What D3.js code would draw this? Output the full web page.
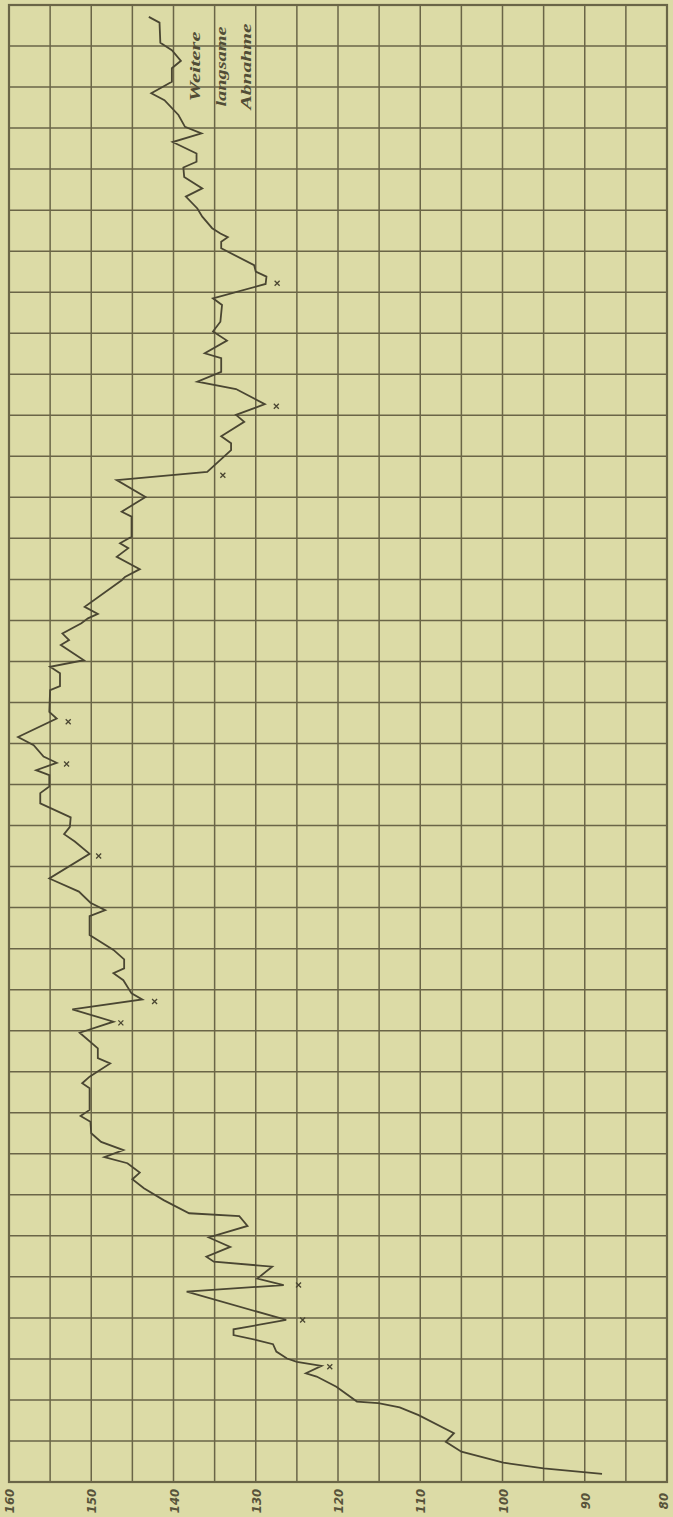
<!DOCTYPE html>
<html>
<head>
<meta charset="utf-8">
<script src="https://cdn.jsdelivr.net/npm/d3@7"></script>
<style>
  body { margin: 0; background: #dcdba6; }
  svg { display: block; }
</style>
</head>
<body>
<div id="container"></div>
<script>
// Declare the chart dimensions and margins.
const width = 673;
const height = 1517;
const marginTop = 5;
const marginRight = 6;
const marginBottom = 35;
const marginLeft = 9;

// time runs from bottom (start) to top, in grid rows
const zeit = [0.2, 0.33, 0.47, 0.74, 0.98, 1.19, 1.63, 1.82, 1.92, 1.96,
    2.32, 2.57, 2.65, 2.83, 2.93, 3.01, 3.18, 3.36, 3.46, 3.58,
    3.72, 3.95, 4.64, 4.80, 4.96, 5.25, 5.37, 5.49, 5.73, 5.96,
    6.24, 6.48, 6.55, 6.87, 7.16, 7.38, 7.54, 7.77, 7.92, 8.09,
    8.29, 8.50, 8.78, 8.92, 9.07, 9.60, 9.72, 9.88, 10.20, 10.33,
    10.57, 10.95, 11.22, 11.52, 11.76, 11.91, 12.23, 12.40, 12.52, 12.74,
    12.97, 13.33, 13.79, 13.94, 14.12, 14.39, 14.71, 15.31, 15.61, 15.79,
    15.97, 16.20, 16.54, 16.79, 16.95, 17.23, 17.35, 17.53, 17.68, 17.96,
    18.16, 18.61, 18.77, 19.30, 19.40, 19.71, 19.87, 20.03, 20.40, 20.52,
    20.68, 20.93, 21.05, 21.16, 21.33, 21.98, 22.06, 22.25, 22.55, 22.76,
    22.88, 23.04, 23.53, 23.65, 24.01, 24.42, 24.62, 25.15, 25.32, 25.49,
    25.84, 26.01, 26.27, 26.64, 26.82, 27.06, 27.39, 27.51, 27.82, 28.04,
    28.28, 28.69, 28.85, 29.20, 29.38, 29.50, 29.66, 30.07, 30.23, 30.34,
    30.43, 30.56, 30.84, 31.04, 31.33, 31.53, 31.81, 32.04, 32.18, 32.38,
    32.66, 32.87, 33.03, 33.32, 33.68, 33.85, 34.13, 34.46, 34.64, 34.90,
    35.08, 35.57, 35.71];

const werte = [87.9, 95.0, 99.9, 105.0, 106.9, 105.9, 110.2, 112.5, 115.1, 117.7,
    120.2, 122.6, 123.9, 122.0, 125.0, 126.2, 127.5, 127.9, 129.9, 132.7,
    132.7, 126.3, 138.4, 126.6, 129.8, 128.0, 135.1, 136.0, 133.1, 135.7,
    131.0, 132.0, 138.1, 141.2, 143.6, 145.0, 144.1, 145.6, 148.4, 146.1,
    148.8, 150.0, 150.1, 151.3, 150.2, 150.2, 151.1, 150.2, 147.7, 149.2,
    149.2, 151.4, 147.3, 152.3, 143.8, 145.1, 146.1, 147.3, 146.0, 146.0,
    147.3, 150.2, 150.2, 148.3, 150.1, 151.5, 155.1, 150.2, 152.0, 153.3,
    152.6, 152.5, 156.2, 156.2, 155.1, 155.1, 156.7, 154.2, 155.8, 157.0,
    158.9, 154.2, 155.1, 155.0, 153.8, 153.8, 155.0, 150.9, 153.7, 152.7,
    153.5, 151.2, 150.4, 149.2, 150.8, 146.3, 145.9, 144.1, 146.9, 145.5,
    146.5, 145.1, 145.1, 146.3, 143.4, 146.9, 135.9, 133.0, 133.0, 134.2,
    131.4, 132.4, 128.9, 132.4, 137.1, 134.2, 134.2, 136.2, 133.5, 135.2,
    134.3, 134.1, 135.2, 128.8, 128.7, 130.0, 130.2, 134.2, 134.2, 133.4,
    134.3, 135.3, 136.5, 137.1, 138.5, 136.5, 138.7, 138.8, 137.2, 137.2,
    140.1, 136.6, 138.6, 139.4, 141.1, 142.7, 140.2, 140.2, 139.1, 140.2,
    141.6, 141.7, 143.0];

// small crosses drawn next to some of the dips
const kreuzZeit = [2.81, 3.95, 4.80, 11.19, 11.71, 15.26, 17.50, 18.53, 24.54, 26.22, 29.22];
const kreuzWerte = [121.0, 124.3, 124.8, 146.4, 142.3, 149.1, 153.0, 152.8, 134.0, 127.5, 127.4];

// scale labels along the bottom edge
const achsenWerte = [160, 150, 140, 130, 120, 110, 100, 90, 80];

// note written at the end of the curve
const anmerkung = ["Weitere", "langsame", "Abnahme"];

const lineColor = "#4a4632";
const gridColor = "#6a6547";

// value runs right to left, time runs bottom to top
const x = d3.scaleLinear()
    .domain([160, 80])
    .range([marginLeft, width - marginRight]);

const y = d3.scaleLinear()
    .domain([0, 36])
    .range([height - marginBottom, marginTop]);

const data = zeit.map((t, i) => ({zeit: t, wert: werte[i]}));
const kreuze = kreuzZeit.map((t, i) => ({zeit: t, wert: kreuzWerte[i]}));

// Create the SVG container.
const svg = d3.select("#container").append("svg")
    .attr("width", width)
    .attr("height", height)
    .attr("viewBox", [0, 0, width, height]);

svg.append("rect")
    .attr("width", width)
    .attr("height", height)
    .attr("fill", "#dcdba6");

// grid paper
const grid = svg.append("g")
    .attr("stroke", gridColor)
    .attr("stroke-width", 1.5);

grid.selectAll(".v")
    .data(d3.range(80, 161, 5))
    .join("line")
    .attr("class", "v")
    .attr("x1", d => x(d))
    .attr("x2", d => x(d))
    .attr("y1", y(0))
    .attr("y2", y(36));

grid.selectAll(".h")
    .data(d3.range(0, 37))
    .join("line")
    .attr("class", "h")
    .attr("x1", x(160))
    .attr("x2", x(80))
    .attr("y1", d => y(d))
    .attr("y2", d => y(d));

svg.append("rect")
    .attr("x", x(160))
    .attr("y", y(36))
    .attr("width", x(80) - x(160))
    .attr("height", y(0) - y(36))
    .attr("fill", "none")
    .attr("stroke", gridColor)
    .attr("stroke-width", 2.2);

// labels under the grid, turned on their side
// (the last one is nudged in so it stays on the sheet)
svg.append("g")
    .attr("transform", `translate(0,${y(0)})`)
    .call(d3.axisBottom(x).tickValues(achsenWerte).tickSize(0))
    .call(g => g.select(".domain").remove())
    .call(g => g.selectAll(".tick text")
        .attr("transform", "rotate(-90)")
        .attr("x", -19)
        .attr("y", d => d === 80 ? -4 : 0)
        .attr("dy", "0.35em")
        .attr("text-anchor", "middle")
        .attr("fill", "#57533a")
        .style("font-family", "'DejaVu Sans Condensed', 'DejaVu Sans', sans-serif")
        .style("font-style", "italic")
        .style("font-weight", "bold")
        .style("font-size", "13px"));

// the curve
const line = d3.line()
    .x(d => x(d.wert))
    .y(d => y(d.zeit));

svg.append("path")
    .datum(data)
    .attr("fill", "none")
    .attr("stroke", lineColor)
    .attr("stroke-width", 1.8)
    .attr("stroke-linejoin", "miter")
    .attr("stroke-miterlimit", 4)
    .attr("d", line);

// crosses
svg.append("g")
    .attr("stroke", lineColor)
    .attr("stroke-width", 1.3)
    .selectAll("path")
    .data(kreuze)
    .join("path")
    .attr("d", d => {
        const cx = x(d.wert), cy = y(d.zeit), s = 2.5;
        return `M${cx - s},${cy - s}L${cx + s},${cy + s}M${cx + s},${cy - s}L${cx - s},${cy + s}`;
    });

// handwritten note, rotated like the labels
const noteLengths = [70, 80, 86];
svg.append("g")
    .selectAll("text")
    .data(anmerkung)
    .join("text")
    .attr("transform", (d, i) => `translate(${x(137.4) + i * 25.5},${y(34.5)}) rotate(-90)`)
    .attr("dy", "0.35em")
    .attr("text-anchor", "middle")
    .attr("textLength", (d, i) => noteLengths[i])
    .attr("lengthAdjust", "spacingAndGlyphs")
    .attr("fill", "#514d36")
    .style("font-family", "'Liberation Serif', serif")
    .style("font-style", "italic")
    .style("font-weight", "bold")
    .style("font-size", "15px")
    .text(d => d);
</script>
</body>
</html>
